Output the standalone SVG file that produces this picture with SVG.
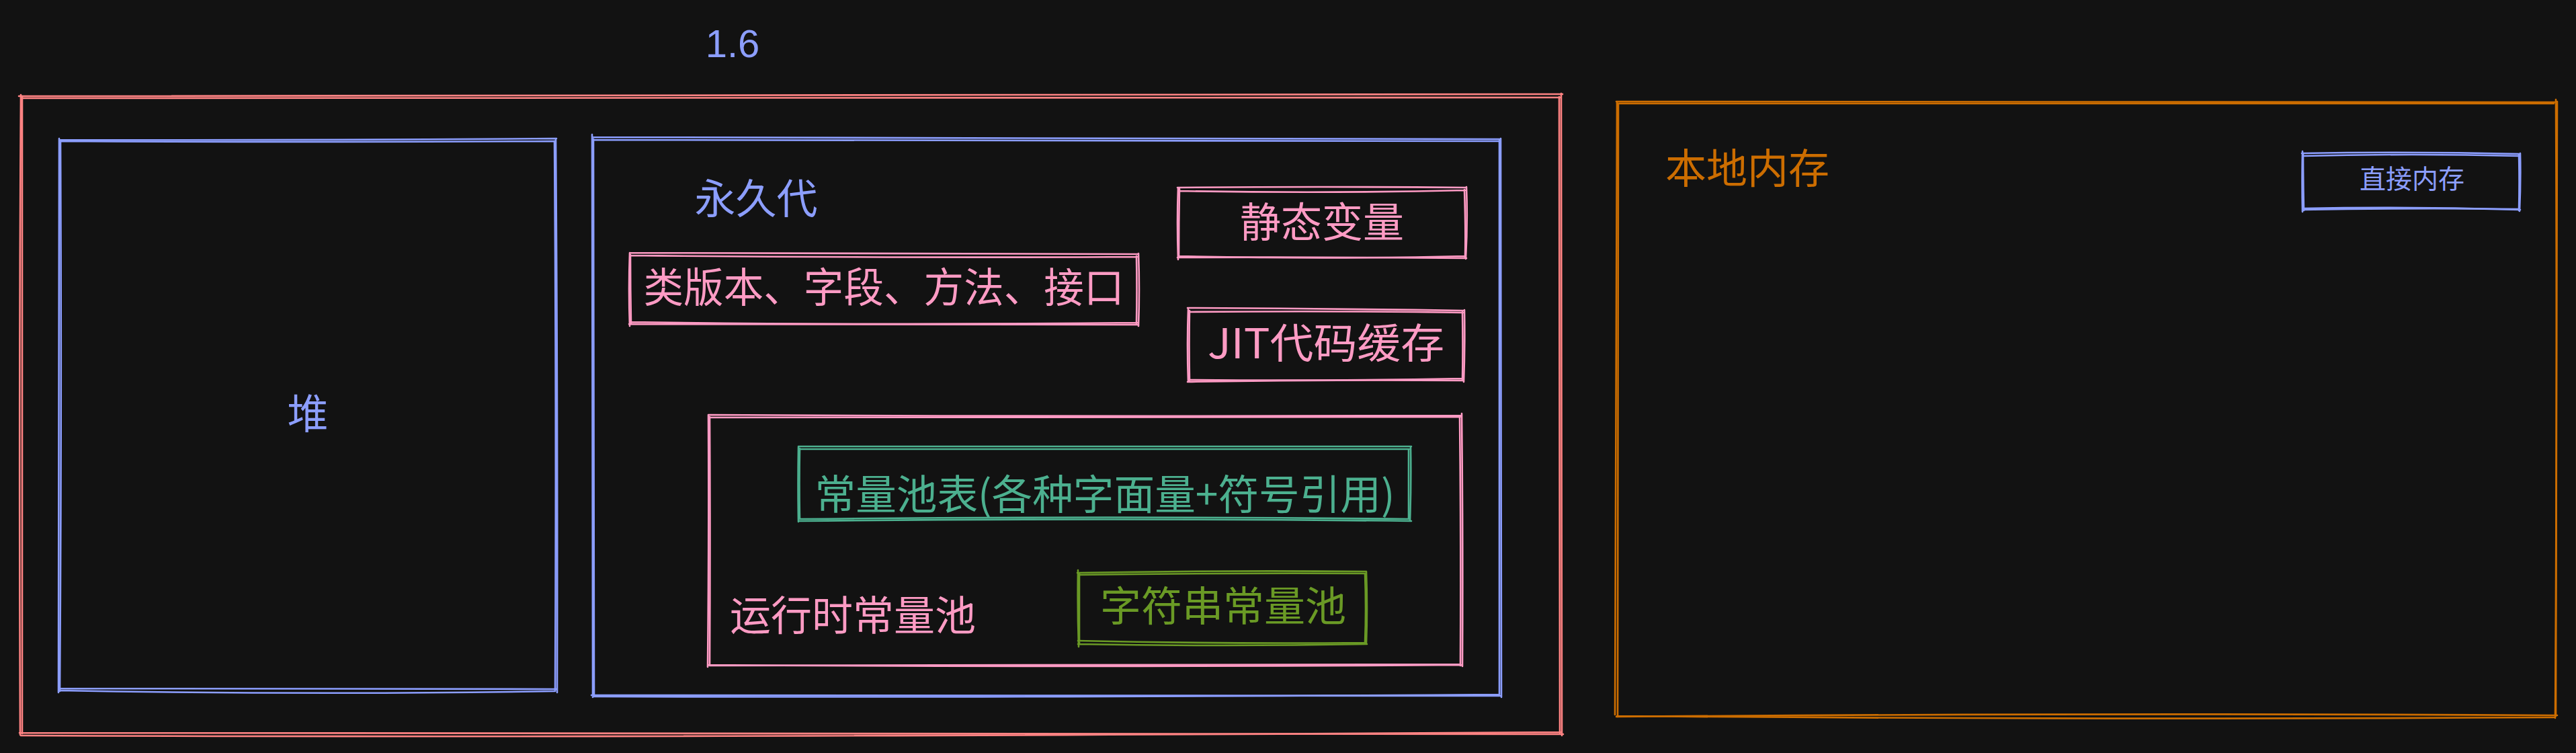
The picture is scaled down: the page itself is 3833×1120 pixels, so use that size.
<svg xmlns="http://www.w3.org/2000/svg" width="3833" height="1120" viewBox="0 0 3833 1120">
<style>
.bx{fill:none;stroke-linecap:round;stroke-linejoin:round;stroke-width:2.6}
.red{stroke:#ff8383}.blue{stroke:#8c9eff}.pink{stroke:#ff9bc4}.teal{stroke:#4cb08f}.green{stroke:#6a9a25}.orange{stroke:#cc6d00}
text{font-family:"Noto Sans CJK SC","Noto Sans",sans-serif;font-size:61px;text-anchor:middle}
.tblue{fill:#8c9eff}.tpink{fill:#ff9bc4}.tteal{fill:#4cb08f}.tgreen{fill:#6a9a25}.torange{fill:#cc6d00}
</style>
<rect width="3833" height="1120" fill="#121212"/>
<g id="label-1-6"><text x="1090" y="85" class="tblue" style="font-family:'Liberation Sans',sans-serif;font-size:58px">1.6</text></g>
<g id="jvm-outer">
<path class="bx red" d="M28,143 Q1100,139 2325,140 M2323,139 Q2325,600 2324,1094 M2326,1092 Q1200,1095 29,1090 M30,1093 Q28,600 31,141"/>
<path class="bx red" d="M32,146 Q1200,144 2322,145 M2320,144 Q2322,620 2321,1090 M2322,1089 Q1000,1098 31,1094 M33,1091 Q31,620 33,143"/>
</g>
<g id="heap">
<path class="bx blue" d="M88,208 Q450,209 828,206 M827,207 Q830,600 829,1030 M829,1025 Q450,1026 87,1024 M87,1030 Q89,600 88,206"/>
<path class="bx blue" d="M90,210 Q460,212 826,210 M825,210 Q828,620 826,1028 M826,1028 Q470,1034 89,1027 M89,1028 Q92,620 90,209"/>
<text x="458" y="638" class="tblue">堆</text>
</g>
<g id="permgen">
<path class="bx blue" d="M881,204 Q1500,206 2233,207 M2233,206 Q2235,600 2234,1037 M2233,1035 Q1500,1035 880,1034 M882,1037 Q880,600 881,200"/>
<path class="bx blue" d="M883,208 Q1600,210 2232,210 M2231,209 Q2232,620 2231,1033 M2230,1033 Q1500,1038 883,1036 M884,1035 Q883,620 883,207"/>
<text x="1125" y="318" class="tblue">永久代</text>
</g>
<g id="static-vars">
<path class="bx pink" d="M1752,279 Q1960,277 2182,279 M2182,278 Q2184,330 2181,385 M2182,384 Q1960,382 1752,383 M1753,386 Q1751,330 1753,279"/>
<path class="bx pink" d="M1754,284 Q1970,288 2180,283 M2179,282 Q2181,340 2180,383 M2180,381 Q1970,386 1754,381 M1754,382 Q1754,330 1755,281"/>
<text x="1967" y="353" class="tpink">静态变量</text>
</g>
<g id="class-info">
<path class="bx pink" d="M937,376 Q1300,377 1694,378 M1694,377 Q1696,430 1694,485 M1694,483 Q1300,481 936,482 M937,485 Q935,430 937,376"/>
<path class="bx pink" d="M939,380 Q1350,384 1692,382 M1691,381 Q1692,430 1691,482 M1692,480 Q1300,484 938,479 M939,481 Q938,430 938,379"/>
<text x="1315" y="450" class="tpink" textLength="715" lengthAdjust="spacingAndGlyphs">类版本、字段、方法、接口</text>
</g>
<g id="jit-cache">
<path class="bx pink" d="M1767,458 Q1970,459 2179,462 M2179,461 Q2180,515 2178,568 M2178,566 Q1970,564 1767,568 M1768,568 Q1766,515 1768,460"/>
<path class="bx pink" d="M1769,464 Q1980,462 2177,465 M2176,464 Q2177,520 2176,565 M2176,563 Q1980,567 1769,565 M1770,566 Q1769,515 1770,462"/>
<text x="1973" y="533" class="tpink" textLength="352" lengthAdjust="spacingAndGlyphs">JIT代码缓存</text>
</g>
<g id="runtime-constant-pool">
<path class="bx pink" d="M1054,617 Q1600,620 2175,618 M2175,615 Q2177,800 2176,991 M2176,989 Q1600,993 1053,989 M1053,992 Q1055,800 1054,617"/>
<path class="bx pink" d="M1056,621 Q1620,622 2173,620 M2172,620 Q2174,800 2173,990 M2173,988 Q1620,990 1056,990 M1056,988 Q1057,800 1056,620"/>
<text x="1269" y="938" class="tpink">运行时常量池</text>
</g>
<g id="constant-pool-table">
<path class="bx teal" d="M1188,664 Q1640,665 2100,664 M2099,664 Q2100,720 2098,775 M2100,775 Q1640,770 1188,775 M1188,776 Q1187,720 1188,665"/>
<path class="bx teal" d="M1190,668 Q1650,667 2097,668 M2096,668 Q2096,720 2096,772 M2097,772 Q1650,767 1189,772 M1190,772 Q1189,720 1190,667"/>
<text x="1644" y="758" class="tteal" textLength="863" lengthAdjust="spacingAndGlyphs">常量池表(各种字面量+符号引用)</text>
</g>
<g id="string-pool">
<path class="bx green" d="M1603,852 Q1820,848 2033,850 M2033,850 Q2035,905 2033,958 M2034,958 Q1820,962 1604,958 M1605,962 Q1603,905 1604,848"/>
<path class="bx green" d="M1605,855 Q1820,852 2031,853 M2031,853 Q2033,905 2031,956 M2031,956 Q1820,958 1604,953 M1606,958 Q1606,905 1606,853"/>
<text x="1820" y="924" class="tgreen">字符串常量池</text>
</g>
<g id="native-memory">
<path class="bx orange" d="M2405,151 Q3100,151 3804,152 M3803,148 Q3805,600 3802,1068 M3805,1064 Q3100,1060 2405,1066 M2403,1063 Q2404,600 2406,152"/>
<path class="bx orange" d="M2406,154 Q3100,157 3800,154 M3805,151 Q3804,600 3803,1065 M3800,1067 Q3100,1071 2406,1065 M2407,1066 Q2406,600 2408,154"/>
<text x="2600" y="273" class="torange">本地内存</text>
</g>
<g id="direct-memory">
<path class="bx blue" d="M3425,228 Q3590,225 3750,229 M3750,228 Q3751,270 3749,314 M3750,312 Q3590,307 3426,310 M3426,315 Q3425,270 3426,225"/>
<path class="bx blue" d="M3427,232 Q3590,228 3749,232 M3748,230 Q3749,270 3748,313 M3748,311 Q3590,309 3427,312 M3428,313 Q3427,270 3427,228"/>
<text x="3589" y="280" class="tblue" style="font-size:39px">直接内存</text>
</g>
<g id="connectors"></g>
</svg>
